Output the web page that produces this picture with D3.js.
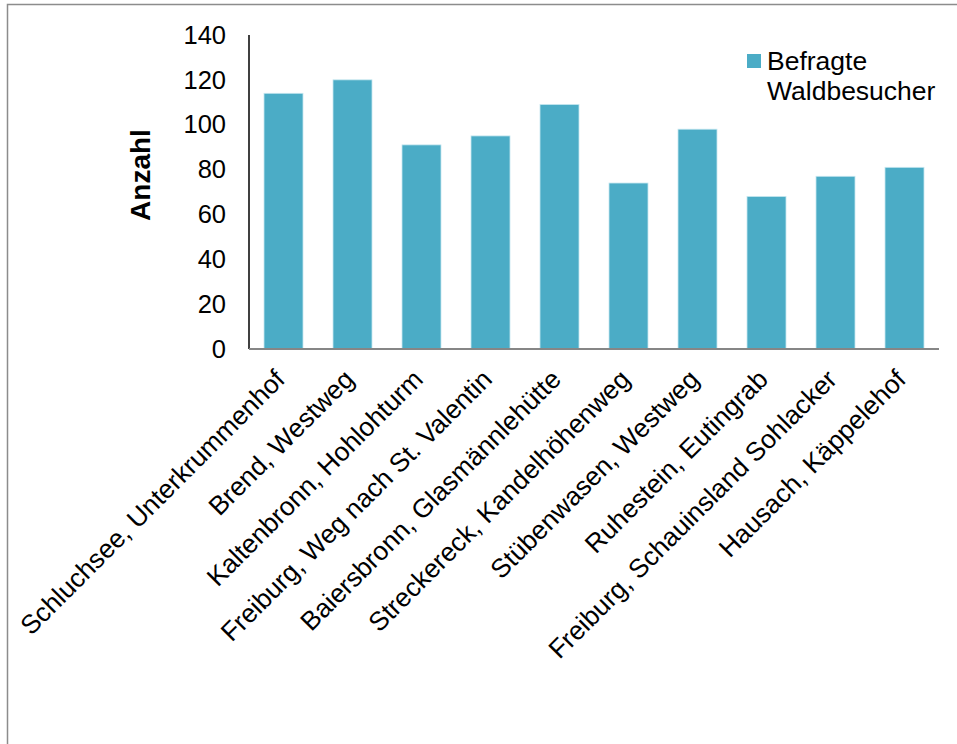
<!DOCTYPE html>
<html>
<head>
<meta charset="utf-8">
<script src="https://cdn.jsdelivr.net/npm/d3@7"></script>
<style>
  html, body { margin: 0; padding: 0; background: #fff; }
  svg { display: block; font-family: "Liberation Sans", Arial, sans-serif; }
</style>
</head>
<body>
<svg id="chart" width="957" height="744"></svg>
<script>
// Survey sites and number of forest visitors interviewed at each
const categories = [
  "Schluchsee, Unterkrummenhof",
  "Brend, Westweg",
  "Kaltenbronn, Hohlohturm",
  "Freiburg, Weg nach St. Valentin",
  "Baiersbronn, Glasmännlehütte",
  "Streckereck, Kandelhöhenweg",
  "Stübenwasen, Westweg",
  "Ruhestein, Eutingrab",
  "Freiburg, Schauinsland Sohlacker",
  "Hausach, Käppelehof"
];
const values = [114, 120, 91, 95, 109, 74, 98, 68, 77, 81];
const yTicks = [0, 20, 40, 60, 80, 100, 120, 140];
const seriesName = ["Befragte", "Waldbesucher"];
const yTitle = "Anzahl";

const svg = d3.select("#chart");
const plot = { left: 249, right: 939, top: 35, bottom: 349 };
const barColor = "#4bacc6";

// outer chart frame (right and bottom edges run past the page)
svg.append("rect")
  .attr("x", 7.5).attr("y", 4.5)
  .attr("width", 1000).attr("height", 800)
  .attr("fill", "none")
  .attr("stroke", "#8c8c8c")
  .attr("stroke-width", 1.5);

const x = d3.scaleBand()
  .domain(categories)
  .range([plot.left, plot.right])
  .paddingInner(0.435)
  .paddingOuter(0.2175);

const y = d3.scaleLinear()
  .domain([0, 140])
  .range([plot.bottom, plot.top]);

// bars
svg.append("g")
  .selectAll("rect")
  .data(values)
  .join("rect")
  .attr("x", (d, i) => x(categories[i]))
  .attr("y", d => y(d))
  .attr("width", x.bandwidth())
  .attr("height", d => y(0) - y(d))
  .attr("fill", barColor)
  .attr("stroke", "#c4e6ef")
  .attr("stroke-width", 0.8);

// y axis: labels only, plus a solid black spine
const yAxis = d3.axisLeft(y).tickValues(yTicks).tickSize(0).tickPadding(23);
const gy = svg.append("g")
  .attr("transform", `translate(${plot.left},0)`)
  .call(yAxis);
gy.select(".domain").remove();
gy.selectAll("text")
  .attr("font-size", 25.5)
  .attr("fill", "#000")
  .attr("font-family", "'Liberation Sans', Arial, sans-serif");

svg.append("line")
  .attr("x1", plot.left).attr("x2", plot.left)
  .attr("y1", y(140)).attr("y2", y(0))
  .attr("stroke", "#000").attr("stroke-width", 1.5);

// x axis baseline
svg.append("line")
  .attr("x1", plot.left).attr("x2", plot.right)
  .attr("y1", y(0)).attr("y2", y(0))
  .attr("stroke", "#868686").attr("stroke-width", 2);

// rotated category labels
const xAxis = d3.axisBottom(x).tickSize(0).tickPadding(0);
const gx = svg.append("g")
  .attr("transform", `translate(0,${plot.bottom})`)
  .call(xAxis);
gx.select(".domain").remove();
gx.selectAll(".tick text")
  .attr("font-size", 26.3)
  .attr("fill", "#000")
  .attr("font-family", "'Liberation Sans', Arial, sans-serif")
  .attr("text-anchor", "end")
  .attr("dy", null)
  .attr("y", null)
  .attr("transform", "translate(3,32) rotate(-45)");

// y axis title
svg.append("text")
  .attr("transform", `translate(150,175) rotate(-90)`)
  .attr("text-anchor", "middle")
  .attr("font-size", 28)
  .attr("font-weight", "bold")
  .attr("fill", "#000")
  .text(yTitle);

// legend
const lg = svg.append("g");
lg.append("rect")
  .attr("x", 747).attr("y", 54)
  .attr("width", 14).attr("height", 14)
  .attr("fill", barColor);
lg.append("text")
  .attr("x", 767).attr("y", 70)
  .attr("font-size", 26.5)
  .attr("fill", "#000")
  .selectAll("tspan")
  .data(seriesName)
  .join("tspan")
  .attr("x", 767)
  .attr("dy", (d, i) => i === 0 ? 0 : 30)
  .text(d => d);
</script>
</body>
</html>
